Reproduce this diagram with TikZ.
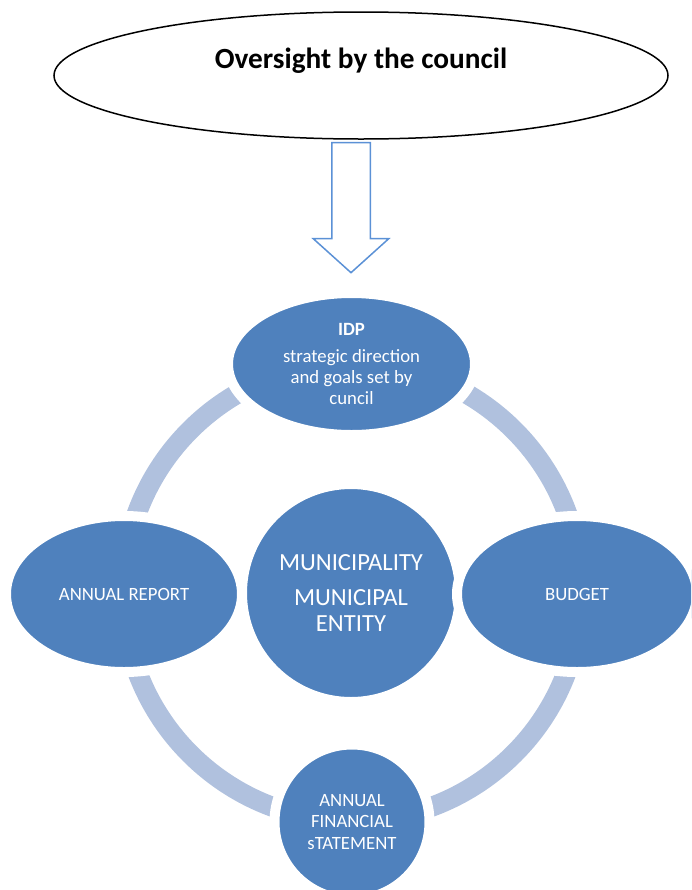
\documentclass[tikz,border=0pt]{standalone}
\usepackage{fontspec}
\setmainfont{Carlito}
\usetikzlibrary{shapes.geometric,shapes.arrows}
\definecolor{nodeblue}{HTML}{4F81BD}
\definecolor{bandblue}{HTML}{B0C1DE}
\definecolor{arrowblue}{HTML}{5B91D6}
\newlength{\pxu}
\setlength{\pxu}{0.03cm}

\begin{document}
\begin{tikzpicture}[x=\pxu, y=-\pxu]

  \tikzset{stage/.style={ellipse, fill=nodeblue, draw=white, line width=10\pxu,
                         text=white, inner sep=0pt, align=center,
                         font=\fontsize{16}{18}\selectfont},
           hub/.style={circle, fill=nodeblue, draw=white, line width=10\pxu,
                       text=white, inner sep=0pt, align=center},
           oval/.style={ellipse, draw=black, line width=1.5\pxu, fill=white,
                        minimum width=614\pxu, minimum height=127\pxu},
           downarrow/.style={single arrow, draw=arrowblue, line width=1.5\pxu,
                             fill=white, rotate=-90, inner xsep=0pt,
                             inner ysep=18.5\pxu,
                             minimum height=130\pxu, minimum width=74\pxu,
                             single arrow head extend=18.5\pxu,
                             single arrow tip angle=96},
           band/.style={draw=bandblue, line width=20\pxu}}

  \clip (0,0) rectangle (691,890);

  % council on top, pushing down
  \node[oval] (over) at (361,75.5) {};
  \node[font=\fontsize{25}{30}\selectfont\bfseries] (overtxt) at (361,61)
    {Oversight by the council};
  \node[downarrow] (push) at (351,199) {};

  % the cycle, band first so the stages sit on it
  \coordinate (hubc) at (352,592);
  \draw[band] (hubc) circle (229);

  \node[stage, minimum width=247\pxu, minimum height=142\pxu] (idp) at (351.5,364)
    {\textbf{IDP}\\[5pt]strategic direction\\and goals set by\\cuncil};
  \node[stage, minimum width=236\pxu, minimum height=156\pxu] (report) at (124,594)
    {ANNUAL REPORT};
  \node[hub, minimum size=155\pxu, font=\fontsize{16}{18}\selectfont] (afs) at (352,822)
    {ANNUAL\\FINANCIAL\\sTATEMENT};
  \node[hub, minimum size=218\pxu, font=\fontsize{21}{22}\selectfont] (mun) at (351,593)
    {MUNICIPALITY\\[8pt]MUNICIPAL\\ENTITY};
  \node[stage, minimum width=240\pxu, minimum height=156\pxu] (budget) at (577,594)
    {BUDGET};

\end{tikzpicture}
\end{document}
